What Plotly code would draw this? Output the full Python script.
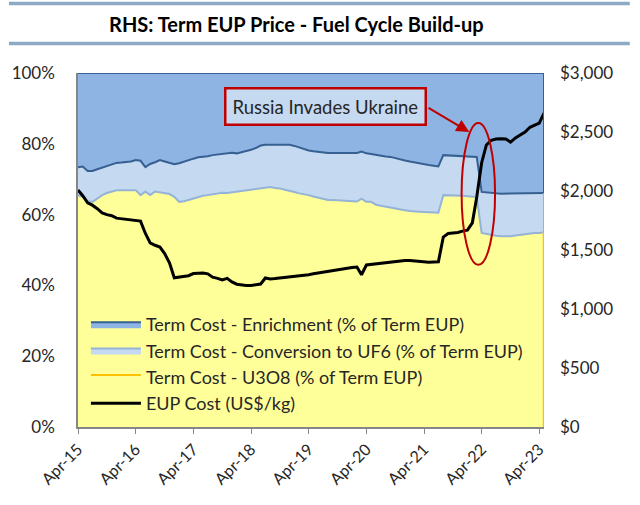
import pandas as pd
import plotly.graph_objects as go

dates = pd.date_range("2015-04-01", periods=98, freq="MS")

eup_cost = [2008, 1960, 1900, 1880, 1850, 1815, 1800, 1790, 1770, 1765,
            1760, 1755, 1750, 1745, 1640, 1560, 1540, 1525, 1470, 1390,
            1265, 1270, 1280, 1282, 1300, 1300, 1305, 1298, 1270, 1260,
            1246, 1260, 1230, 1210, 1203, 1200, 1200, 1205, 1212, 1263,
            1255, 1258, 1262, 1265, 1270, 1272, 1280, 1285, 1290, 1298,
            1305, 1314, 1320, 1328, 1332, 1340, 1348, 1352, 1356, 1290,
            1373, 1378, 1385, 1390, 1394, 1398, 1402, 1405, 1410, 1410,
            1407, 1400, 1398, 1396, 1398, 1400, 1610, 1640, 1645, 1648,
            1660, 1668, 1730, 1950, 2240, 2390, 2430, 2440, 2442, 2440,
            2415, 2450, 2475, 2500, 2540, 2560, 2576, 2660]

u3o8_pct = [65.5, 65.0, 63.8, 63.6, 64.5, 65.5, 66.1, 66.5, 66.9, 66.9,
            67.0, 66.9, 66.9, 65.5, 66.5, 65.5, 66.5, 66.2, 66.1, 65.8,
            65.0, 63.6, 63.8, 64.2, 64.5, 65.0, 65.3, 65.5, 65.8, 66.0,
            66.2, 66.1, 66.3, 66.4, 66.6, 66.8, 67.0, 67.2, 67.5, 67.6,
            67.8, 67.5, 67.4, 67.0, 66.6, 66.4, 66.0, 65.8, 65.5, 65.1,
            64.7, 64.3, 64.1, 64.1, 64.0, 63.9, 63.8, 63.8, 63.7, 64.5,
            63.6, 63.6, 62.8, 62.5, 62.2, 62.0, 61.6, 61.5, 61.2, 61.0,
            60.8, 60.8, 60.7, 60.6, 60.5, 60.5, 65.5, 65.5, 65.4, 65.3,
            65.3, 65.2, 65.0, 65.0, 54.8, 54.5, 54.2, 54.0, 53.9, 53.8,
            53.9, 54.1, 54.3, 54.5, 54.6, 54.8, 54.8, 55.0]

# cumulative share of U3O8 + conversion (top of the conversion band)
u3o8_conv_pct = [73.4, 73.6, 72.3, 72.3, 72.8, 73.2, 73.6, 74.0, 74.6, 74.7,
                 74.8, 75.0, 75.4, 75.2, 73.4, 74.3, 74.8, 75.4, 75.0, 74.6,
                 74.2, 74.5, 75.0, 75.5, 75.8, 76.2, 76.3, 76.5, 76.8, 77.0,
                 77.2, 77.4, 77.5, 77.3, 77.6, 78.0, 78.3, 78.8, 79.5, 79.7,
                 79.7, 79.7, 79.7, 79.7, 79.7, 79.4, 78.9, 78.4, 78.1, 77.9,
                 77.7, 77.5, 77.4, 77.4, 77.4, 77.4, 77.4, 77.3, 77.4, 77.8,
                 77.3, 77.1, 76.8, 76.6, 76.4, 76.3, 75.9, 75.6, 75.3, 75.0,
                 74.7, 74.4, 74.2, 74.0, 73.8, 73.6, 76.8, 76.7, 76.6, 76.5,
                 76.5, 76.4, 76.3, 76.3, 66.4, 66.2, 66.1, 66.0, 65.9, 65.9,
                 66.0, 66.1, 66.1, 66.1, 66.0, 66.1, 66.1, 66.1]

conversion_pct = [round(c - u, 2) for c, u in zip(u3o8_conv_pct, u3o8_pct)]
enrichment_pct = [round(100 - c, 2) for c in u3o8_conv_pct]

tick_dates = pd.date_range("2015-04-01", "2023-04-01", freq="12MS")
pct_ticks = [0, 20, 40, 60, 80, 100]
usd_ticks = [0, 500, 1000, 1500, 2000, 2500, 3000]

FONT = "Lato"
TXT = "#262626"
C_ENR, C_ENR_LINE = "#8DB4E2", "#376092"
C_CONV, C_CONV_LINE = "#C5D9F1", "#95B3D7"
C_U, C_U_LINE = "#FFFF99", "#FFC000"

fig = go.Figure()

# stacked areas (boundary line colours as in the reference)
fig.add_trace(go.Scatter(
    x=dates, y=u3o8_pct, stackgroup="pct", mode="lines",
    line=dict(color=C_CONV_LINE, width=2), fillcolor=C_U, showlegend=False))
fig.add_trace(go.Scatter(
    x=dates, y=conversion_pct, stackgroup="pct", mode="lines",
    line=dict(color=C_ENR_LINE, width=2), fillcolor=C_CONV, showlegend=False))
fig.add_trace(go.Scatter(
    x=dates, y=enrichment_pct, stackgroup="pct", mode="lines",
    line=dict(color=C_ENR_LINE, width=2), fillcolor=C_ENR, showlegend=False))
fig.add_trace(go.Scatter(
    x=dates, y=eup_cost, yaxis="y2", mode="lines",
    line=dict(color="black", width=3), showlegend=False))

# legend entries
legend_items = [
    ("Term Cost - Enrichment (% of Term EUP)", C_ENR, C_ENR_LINE, True),
    ("Term Cost - Conversion to UF6 (% of Term EUP)", C_CONV, C_CONV_LINE, True),
    ("Term Cost - U3O8 (% of Term EUP)", C_U, C_U_LINE, True),
    ("EUP Cost (US$/kg)", None, "black", False),
]
for i, (nm, fc, lc, filled) in enumerate(legend_items):
    if filled:
        fig.add_trace(go.Scatter(x=[None], y=[None], name=nm, mode="lines",
                                 fill="toself", fillcolor=fc,
                                 line=dict(color=lc, width=2),
                                 legendgroup=f"g{i}", legendrank=i + 1))
    else:
        fig.add_trace(go.Scatter(x=[None], y=[None], name=nm, mode="lines",
                                 line=dict(color=lc, width=3), yaxis="y2",
                                 legendgroup=f"g{i}", legendrank=i + 1))

# right-edge borders of the stacked areas
last = dates[-1]
fig.add_shape(type="line", xref="x", yref="y", x0=last, x1=last, y0=0, y1=u3o8_pct[-1],
              line=dict(color=C_U_LINE, width=2.5))
fig.add_shape(type="line", xref="x", yref="y", x0=last, x1=last, y0=u3o8_pct[-1],
              y1=u3o8_conv_pct[-1], line=dict(color=C_CONV_LINE, width=2))
fig.add_shape(type="line", xref="x", yref="y", x0=last, x1=last, y0=u3o8_conv_pct[-1],
              y1=100, line=dict(color=C_ENR_LINE, width=2))

# title bars
for yb in [1.196, 1.083]:
    fig.add_shape(type="line", xref="paper", yref="paper", x0=-0.148, x1=1.184,
                  y0=yb, y1=yb, line=dict(color="#8DA9C4", width=3.5), layer="above")

# annotation box + arrow + ellipse
fig.add_annotation(
    x=pd.Timestamp("2019-07-18"), y=90.5, xref="x", yref="y",
    text="Russia Invades Ukraine", showarrow=False,
    font=dict(family=FONT, size=18.5, color=TXT),
    bgcolor="#C5D9F1", bordercolor="#C00000", borderwidth=2.5, borderpad=6)
fig.add_annotation(
    x=pd.Timestamp("2022-01-13"), y=83.3, xref="x", yref="y",
    ax=pd.Timestamp("2021-04-20"), ay=90.4, axref="x", ayref="y",
    text="", showarrow=True, arrowhead=2, arrowsize=1.3, arrowwidth=2,
    arrowcolor="#C00000")
fig.add_shape(type="circle", xref="x", yref="y",
              x0=pd.Timestamp("2021-11-25"), x1=pd.Timestamp("2022-06-25"),
              y0=45.8, y1=85.9, line=dict(color="#C00000", width=2))

fig.update_layout(
    width=640, height=505,
    margin=dict(l=70, r=96, t=73, b=78),
    paper_bgcolor="white", plot_bgcolor="white",
    font=dict(family=FONT, size=16, color=TXT),
    title=dict(text="<b>RHS: Term EUP Price - Fuel Cycle Build-up</b>",
               x=0.463, xanchor="center", y=0.95, yanchor="middle",
               font=dict(family=FONT, size=20, color="black")),
    showlegend=True,
    legend=dict(x=0.017, y=0.342, xanchor="left", yanchor="top",
                bgcolor="rgba(0,0,0,0)", font=dict(family=FONT, size=18, color=TXT),
                traceorder="normal", tracegroupgap=5.5, itemwidth=50),
    xaxis=dict(range=[dates[0], dates[-1]], tickvals=tick_dates, tickformat="%b-%y",
               tickangle=-45, ticks="outside", ticklen=5, tickcolor="#868686",
               showline=True, linecolor="#868686", linewidth=1.5, showgrid=False,
               zeroline=False, tickfont=dict(family=FONT, size=16, color=TXT)),
    yaxis=dict(range=[0, 100], tickvals=pct_ticks,
               ticktext=[f"{v}%" for v in pct_ticks],
               showline=True, linecolor="#868686", linewidth=1.5, showgrid=False,
               zeroline=False, ticklabelstandoff=18,
               tickfont=dict(family=FONT, size=17, color=TXT)),
    yaxis2=dict(range=[0, 3000], tickvals=usd_ticks,
                ticktext=[f"${v:,}" for v in usd_ticks],
                overlaying="y", side="right",
                showgrid=False, zeroline=False, showline=False, ticklabelstandoff=15,
                tickfont=dict(family=FONT, size=17, color=TXT)),
)

fig.write_html("out.html")
